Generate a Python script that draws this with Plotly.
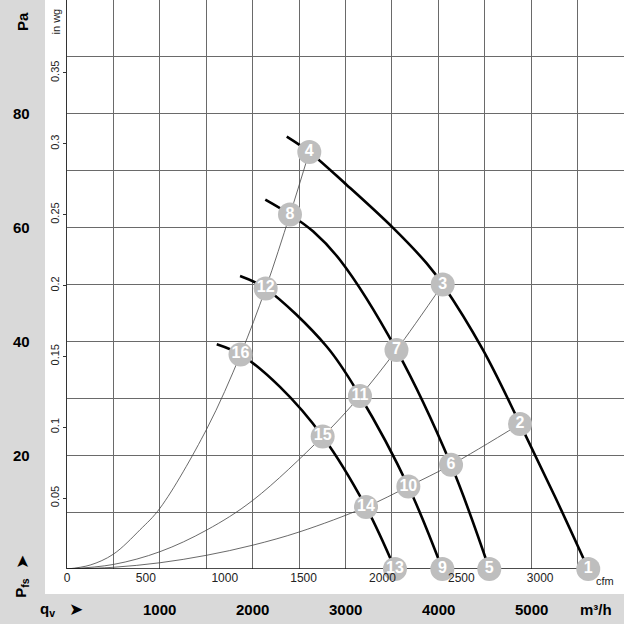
import plotly.graph_objects as go

# fan curves (q in m3/h, p in Pa)
qA = [2367, 2610, 3013, 3515, 3875, 4047, 4481, 4880, 5257, 5615]
pA = [76.0, 73.3, 67.5, 59.9, 53.7, 50.0, 38.5, 25.5, 12.7, 0]
qB = [2136, 2402, 2653, 2941, 3549, 4137, 4549]
pB = [64.9, 62.3, 59.3, 54.3, 38.5, 18.3, 0]
qC = [1864, 2140, 2797, 3156, 3677, 4043]
pC = [51.5, 49.3, 39.1, 30.4, 14.5, 0]
qD = [1613, 1869, 2294, 2754, 3221, 3533]
pD = [39.5, 37.7, 32.0, 23.3, 10.9, 0]

# system curves
qS1 = [0, 250, 499, 787, 1002, 1505, 1869, 2140, 2402, 2610]
pS1 = [0, 0.7, 2.6, 6.9, 10.7, 24.6, 37.7, 49.3, 62.3, 73.3]
qS2 = [0, 500, 1002, 1505, 2004, 2754, 3156, 3549, 4047]
pS2 = [0, 0.8, 3.05, 6.85, 12.1, 23.3, 30.4, 38.5, 50.0]
qS3 = [0, 500, 1002, 1500, 2004, 2510, 3221, 3677, 4137, 4880]
pS3 = [0, 0.3, 1.1, 2.4, 4.2, 6.55, 10.9, 14.5, 18.3, 25.5]
qS4 = [0, 5615]
pS4 = [0, 0]

# numbered operating points
pt_num = ['1', '2', '3', '4', '5', '6', '7', '8', '9', '10', '11', '12', '13', '14', '15', '16']
pt_q = [5615, 4880, 4047, 2610, 4549, 4137, 3549, 2402, 4043, 3677, 3156, 2140, 3533, 3221, 2754, 1869]
pt_p = [0, 25.5, 50.0, 73.3, 0, 18.3, 38.5, 62.3, 0, 14.5, 30.4, 49.3, 0, 10.9, 23.3, 37.7]

pa_ticks = [80, 60, 40, 20]
inwg_ticks = [0.05, 0.1, 0.15, 0.2, 0.25, 0.3, 0.35]
cfm_ticks = [0, 500, 1000, 1500, 2000, 2500, 3000]
m3h_ticks = [1000, 2000, 3000, 4000, 5000]

FONT = 'Liberation Sans, Arial, sans-serif'
GRAY = '#d9d9d9'

fig = go.Figure()

for q, p in [(qS1, pS1), (qS2, pS2), (qS3, pS3)]:
    fig.add_trace(go.Scatter(x=q, y=p, mode='lines', line=dict(color='#444', width=0.8, shape='spline'),
                             showlegend=False, hoverinfo='skip'))
fig.add_trace(go.Scatter(x=qS4, y=pS4, mode='lines', line=dict(color='#111', width=1.5),
                         showlegend=False, hoverinfo='skip', cliponaxis=False))

for q, p in [(qA, pA), (qB, pB), (qC, pC), (qD, pD)]:
    fig.add_trace(go.Scatter(x=q, y=p, mode='lines', line=dict(color='black', width=2.6, shape='spline'),
                             showlegend=False, hoverinfo='skip'))

fig.add_trace(go.Scatter(x=pt_q, y=pt_p, mode='markers+text',
                         marker=dict(size=24, color='#bebebe'),
                         text=['<b>%s</b>' % n for n in pt_num], textposition='middle center',
                         textfont=dict(family=FONT, size=16, color='white'),
                         showlegend=False, hoverinfo='skip', cliponaxis=False))

# empty trace so the secondary (cfm / in wg) axes get drawn
fig.add_trace(go.Scatter(x=[], y=[], xaxis='x2', yaxis='y2', showlegend=False))

# gray bands
fig.add_shape(type='rect', xref='paper', yref='paper', x0=-0.13, x1=-0.0395, y0=-0.045, y1=1.0,
              fillcolor=GRAY, line_width=0, layer='below')
fig.add_shape(type='rect', xref='paper', yref='paper', x0=-0.13, x1=1.0, y0=-0.1, y1=-0.0439,
              fillcolor=GRAY, line_width=0, layer='below')

big = dict(size=15, color='black', family=FONT)
arrow = dict(size=17, color='black', family='DejaVu Sans')
small = dict(size=11, color='#222', family=FONT)
ann = []
ann.append(dict(text='<b>Pa</b>', x=-0.0808, y=96.3, xref='paper', yref='y', textangle=-90, font=big))
for v in pa_ticks:
    ann.append(dict(text='<b>%d</b>' % v, x=-0.0808, y=v, xref='paper', yref='y', font=big))
ann.append(dict(text='<b>P<sub>fs</sub></b>', x=-0.0808, y=-0.033, xref='paper', yref='paper',
                textangle=-90, font=big))
ann.append(dict(text='➤', x=-0.0808, y=0.0123, xref='paper', yref='paper', textangle=-90, font=arrow))
ann.append(dict(text='in wg', x=-0.019, y=96.3, xref='paper', yref='y', textangle=-90, font=small))
ann.append(dict(text='<b>q<sub>v</sub></b>', x=-0.0355, y=-0.0703, xref='paper', yref='paper', font=big))
ann.append(dict(text='➤', x=0.0162, y=-0.0703, xref='paper', yref='paper', font=arrow))
for v in m3h_ticks:
    ann.append(dict(text='<b>%d</b>' % v, x=v, y=-0.0703, xref='x', yref='paper', font=big))
ann.append(dict(text='<b>m³/h</b>', x=5698, y=-0.0703, xref='x', yref='paper', font=big))
ann.append(dict(text='cfm', x=5796, y=-0.0211, xref='x', yref='paper', font=small))
for a in ann:
    a.update(showarrow=False, xanchor='center', yanchor='middle')

fig.update_layout(
    width=624, height=624,
    margin=dict(l=67, r=0, t=0, b=55),
    paper_bgcolor='white', plot_bgcolor='white',
    font=dict(family=FONT, color='#222'),
    xaxis=dict(range=[0, 6000], dtick=500, tick0=0, showticklabels=False, showgrid=True,
               gridcolor='#6a6a6a', gridwidth=1, zeroline=False, showline=False, ticks=''),
    yaxis=dict(range=[0, 100], dtick=10, tick0=0, showticklabels=False, showgrid=True,
               gridcolor='#6a6a6a', gridwidth=1, zeroline=False, showline=True, linecolor='#333',
               linewidth=1, ticks=''),
    xaxis2=dict(overlaying='x', side='bottom', range=[0, 6000 / 1.699], tickvals=cfm_ticks,
                ticktext=[str(v) for v in cfm_ticks], showgrid=False, zeroline=False, showline=False,
                ticks='', tickfont=dict(size=12, color='#222', family=FONT)),
    yaxis2=dict(overlaying='y', side='left', range=[0, 100 / 249.089], tickvals=inwg_ticks,
                ticktext=[str(v) for v in inwg_ticks], showgrid=False, zeroline=False, showline=False,
                ticks='outside', ticklen=3, tickcolor='#333', tickangle=-90,
                tickfont=small),
    annotations=ann,
)

fig.write_html('out.html', config={'displayModeBar': False},
               post_script="document.body.style.margin='0';document.documentElement.style.overflow='hidden';")
